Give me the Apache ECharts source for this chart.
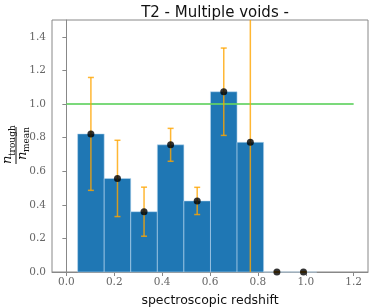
<!DOCTYPE html>
<html><head><meta charset="utf-8">
<script src="https://cdn.jsdelivr.net/npm/echarts@6/dist/echarts.min.js"></script>
<style>html,body{margin:0;padding:0;background:#fff}#c{width:374px;height:307px}</style>
</head><body><div id="c"></div>
<script>
const binEdges = [0.047, 0.158, 0.269, 0.380, 0.491, 0.602, 0.713, 0.824, 0.935, 1.046];
const ratio = [0.822, 0.557, 0.359, 0.757, 0.423, 1.073, 0.772, 0, 0];
const ratioErr = [0.336, 0.227, 0.146, 0.098, 0.081, 0.260, 0.85, 0, 0];
const refLine = [[0, 1], [1.2, 1]];
const xTicks = [0, 0.2, 0.4, 0.6, 0.8, 1.0, 1.2];
const yTicks = [0, 0.2, 0.4, 0.6, 0.8, 1.0, 1.2, 1.4];

const centers = ratio.map((v, i) => (binEdges[i] + binEdges[i + 1]) / 2);
const barData = ratio.map((v, i) => [binEdges[i], binEdges[i + 1], v]);
const errData = ratio.map((v, i) => [centers[i], v, ratioErr[i]]);
const ptData = ratio.map((v, i) => [centers[i], v]);

const serif = "'DejaVu Serif', serif";
const sans = "'DejaVu Sans', sans-serif";
const nStyle = (t, x, y) => ({type: 'text', x: x, y: y, style: {text: t, textAlign: 'left', textVerticalAlign: 'bottom',
  fontFamily: serif, fontStyle: 'italic', fontSize: 13, fill: '#111'}});
const sStyle = (t, x, y) => ({type: 'text', x: x, y: y, style: {text: t, textAlign: 'left', textVerticalAlign: 'bottom',
  fontFamily: serif, fontSize: 9, fill: '#111'}});
const chart = echarts.init(document.getElementById('c'), null, {renderer: 'canvas'});
chart.setOption({
  animation: false,
  title: {text: 'T2 - Multiple voids -', left: 210, textAlign: 'center', top: 1,
    textStyle: {fontFamily: sans, fontWeight: 'normal', fontSize: 15, color: '#111'}},
  grid: {left: 52, right: 6, top: 20, bottom: 35, show: true, borderColor: '#888', borderWidth: 1,
    outerBoundsMode: 'none', containLabel: false},
  xAxis: {type: 'value', min: -0.06, max: 1.26,
    name: 'spectroscopic redshift', nameLocation: 'middle', nameGap: 22,
    nameTextStyle: {fontFamily: sans, fontSize: 12.5, color: '#111'},
    axisLine: {onZero: false, lineStyle: {color: '#888'}},
    axisTick: {customValues: xTicks, length: 4, lineStyle: {color: '#888'}},
    axisLabel: {customValues: xTicks, formatter: v => v.toFixed(1), fontFamily: serif, fontSize: 10.5, color: '#666', margin: 5},
    splitLine: {show: false}},
  yAxis: {type: 'value', min: 0, max: 1.5,
    axisLine: {show: true, lineStyle: {color: '#888'}},
    axisTick: {customValues: yTicks, length: 4, lineStyle: {color: '#888'}},
    axisLabel: {customValues: yTicks, formatter: v => v.toFixed(1), fontFamily: serif, fontSize: 10.5, color: '#666', margin: 6},
    splitLine: {show: false}},
  graphic: [{
    type: 'group', x: 16, y: 145, rotation: Math.PI / 2,
    children: [
      nStyle('n', -19, -2),
      sStyle('trough', -11, 1),
      {type: 'line', shape: {x1: -19, y1: 0, x2: 18, y2: 0}, style: {stroke: '#111', lineWidth: 1}},
      nStyle('n', -15, 13),
      sStyle('mean', -7, 15)
    ]
  }],
  series: [
    {type: 'custom', data: barData, z: 2,
      renderItem: (params, api) => {
        const p0 = api.coord([api.value(0), api.value(2)]);
        const p1 = api.coord([api.value(1), 0]);
        return {type: 'rect', shape: {x: p0[0], y: p0[1], width: p1[0] - p0[0], height: p1[1] - p0[1]},
          style: {fill: '#1f77b4', stroke: 'rgba(190,218,240,0.55)', lineWidth: 1}};
      }},
    {type: 'line', data: refLine, symbol: 'none', z: 3,
      lineStyle: {color: 'rgba(100,210,100,0.85)', width: 2}},
    {type: 'custom', data: errData, z: 4,
      renderItem: (params, api) => {
        const x = api.value(0), y = api.value(1), e = api.value(2);
        const cs = params.coordSys;
        const top = api.coord([x, y + e]), bot = api.coord([x, y - e]);
        const px = top[0];
        const yt = Math.max(top[1], cs.y), yb = Math.min(bot[1], cs.y + cs.height);
        const st = {stroke: 'rgba(255,165,0,0.8)', lineWidth: 1.5};
        const ch = [{type: 'line', shape: {x1: px, y1: yt, x2: px, y2: yb}, style: st}];
        if (top[1] >= cs.y) ch.push({type: 'line', shape: {x1: px - 3, y1: top[1], x2: px + 3, y2: top[1]}, style: st});
        if (bot[1] <= cs.y + cs.height) ch.push({type: 'line', shape: {x1: px - 3, y1: bot[1], x2: px + 3, y2: bot[1]}, style: st});
        return {type: 'group', children: ch};
      }},
    {type: 'scatter', data: ptData, symbol: 'circle', symbolSize: 7, z: 5,
      itemStyle: {color: '#000'}}
  ]
});
</script></body></html>
